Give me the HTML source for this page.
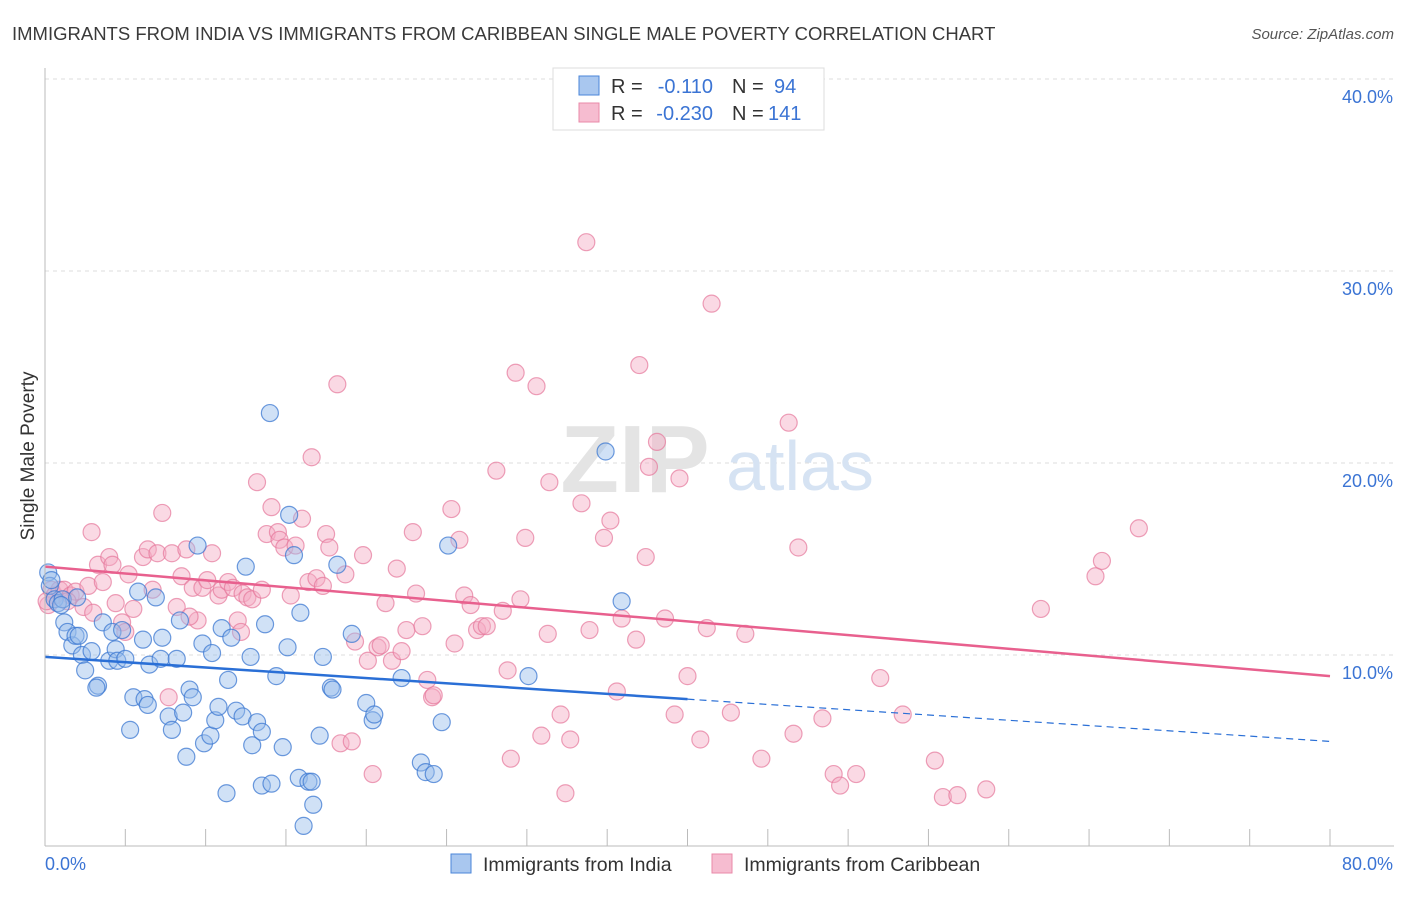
<!DOCTYPE html>
<html><head><meta charset="utf-8"><style>
body{margin:0;background:#fff;font-family:"Liberation Sans",sans-serif;}
svg text{font-family:"Liberation Sans",sans-serif;}
</style></head><body>
<svg width="1406" height="892" xmlns="http://www.w3.org/2000/svg">
<text x="12" y="40" font-size="18.5" fill="#3a3a3a">IMMIGRANTS FROM INDIA VS IMMIGRANTS FROM CARIBBEAN SINGLE MALE POVERTY CORRELATION CHART</text>
<text x="1394" y="39" font-size="15" fill="#555" font-style="italic" text-anchor="end">Source: ZipAtlas.com</text>
<g id="grid"></g>
<g>
<text x="635" y="492" font-size="96" font-family="Liberation Serif" fill="#e4e4e4" text-anchor="middle" font-weight="bold">ZIP</text>
<text x="800" y="490" font-size="70" fill="#d6e3f3" text-anchor="middle">atlas</text>
</g>
<g id="pts"></g>
<g id="lines"></g>
<g id="axes"></g>
<text transform="translate(34,456) rotate(-90)" font-size="19" fill="#333" text-anchor="middle">Single Male Poverty</text>
<g>
<rect x="553" y="68" width="271" height="62" fill="#fff" stroke="#ddd"/>
<rect x="579" y="76" width="20" height="19" fill="#a9c7ef" stroke="#4a86d8"/>
<rect x="579" y="103" width="20" height="19" fill="#f6bcd0" stroke="#e98aa8"/>
<text x="611" y="93" font-size="20" fill="#333">R =</text>
<text x="713" y="93" font-size="20" fill="#3b74d4" text-anchor="end">-0.110</text>
<text x="732" y="93" font-size="20" fill="#333">N =</text>
<text x="774" y="93" font-size="20" fill="#3b74d4">94</text>
<text x="611" y="120" font-size="20" fill="#333">R =</text>
<text x="713" y="120" font-size="20" fill="#3b74d4" text-anchor="end">-0.230</text>
<text x="732" y="120" font-size="20" fill="#333">N =</text>
<text x="768" y="120" font-size="20" fill="#3b74d4">141</text>
</g>
<g>
<rect x="451" y="854" width="20" height="19" fill="#a9c7ef" stroke="#4a86d8"/>
<text x="483" y="871" font-size="19.5" fill="#333">Immigrants from India</text>
<rect x="712" y="854" width="20" height="19" fill="#f6bcd0" stroke="#e98aa8"/>
<text x="744" y="871" font-size="19.5" fill="#333">Immigrants from Caribbean</text>
</g>
</svg>
<script>
const xTicks=[0,10,20,30,40,50,60,70,80];
const yTicks=[10,20,30,40];
const indiaX=[0.2,0.3,0.6,0.8,1.1,1.2,1.4,1.7,1.9,2.1,2.3,2.5,2.9,3.3,3.2,3.6,4.0,4.2,4.4,4.5,4.8,5.0,5.3,5.5,6.2,6.4,5.8,6.1,6.5,6.9,7.2,7.3,7.7,7.9,8.2,8.4,8.6,8.8,9.0,9.2,9.5,9.8,9.9,10.3,10.4,10.6,10.8,11.0,11.4,11.3,11.6,11.9,12.3,12.5,12.8,12.9,13.2,13.5,13.5,13.7,14.1,14.0,14.4,14.8,15.1,15.2,15.5,15.8,15.9,16.1,16.4,16.6,16.7,17.1,17.3,17.8,17.9,18.2,19.1,20.0,20.4,20.5,22.2,23.4,23.7,24.2,24.7,25.1,30.1,34.9,35.9,0.4,1.0,2.0];
const indiaY=[14.3,13.6,12.9,12.7,12.9,11.7,11.2,10.5,11.0,11.0,10.0,9.2,10.2,8.4,8.3,11.7,9.7,11.2,10.3,9.7,11.3,9.8,6.1,7.8,7.7,7.4,13.3,10.8,9.5,13.0,9.8,10.9,6.8,6.1,9.8,11.8,7.0,4.7,8.2,7.8,15.7,10.6,5.4,5.8,10.1,6.6,7.3,11.4,8.7,2.8,10.9,7.1,6.8,14.6,9.9,5.3,6.5,6.0,3.2,11.6,3.3,22.6,8.9,5.2,10.4,17.3,15.2,3.6,12.2,1.1,3.4,3.4,2.2,5.8,9.9,8.3,8.2,14.7,11.1,7.5,6.6,6.9,8.8,4.4,3.9,3.8,6.5,15.7,8.9,20.6,12.8,13.9,12.6,13.0];
const caribX=[0.2,0.4,0.6,0.9,1.2,1.6,1.9,2.4,2.7,2.9,3.3,3.6,4.0,4.2,4.4,4.8,5.0,5.5,6.1,6.4,6.7,7.0,7.3,7.7,7.9,8.2,8.5,8.8,9.2,9.5,9.8,10.1,10.4,10.8,11.0,11.4,11.7,12.0,12.3,12.6,12.9,13.2,13.5,13.8,14.1,14.5,14.6,14.9,15.3,15.6,16.0,16.4,16.6,16.9,17.3,17.5,17.7,18.2,18.4,18.7,19.1,19.3,19.8,20.1,20.4,20.7,20.9,21.2,21.6,21.9,22.2,22.5,22.9,23.1,23.5,23.8,24.1,24.2,25.3,25.5,25.8,26.1,26.5,26.9,27.2,27.5,28.1,28.5,28.8,29.0,29.3,29.6,29.9,30.6,30.9,31.3,31.4,32.1,32.4,32.7,33.4,33.7,33.9,34.8,35.2,35.6,35.9,36.8,37.0,37.4,37.6,38.1,38.6,39.2,39.5,40.0,40.8,41.2,41.5,42.7,43.6,44.6,46.3,46.6,46.9,48.4,49.1,49.5,50.5,52.0,53.4,55.4,55.9,56.8,58.6,62.0,65.4,65.8,68.1,0.1,1.4,3.0,5.2,9.0,12.2];
const caribY=[12.6,13.4,13.1,13.4,13.4,13.1,13.3,12.5,13.6,16.4,14.7,13.8,15.1,14.7,12.7,11.7,11.2,12.4,15.1,15.5,13.4,15.3,17.4,7.8,15.3,12.5,14.1,15.5,13.5,11.8,13.5,13.9,15.3,13.1,13.4,13.8,13.5,11.8,13.2,13.0,12.9,19.0,13.4,16.3,17.7,16.4,16.0,15.6,13.1,15.7,17.1,13.8,20.3,14.0,13.6,16.3,15.6,24.1,5.4,14.2,5.5,10.7,15.2,9.7,3.8,10.4,10.5,12.7,9.7,14.5,10.2,11.3,16.4,13.2,11.5,8.7,7.8,7.9,17.6,10.6,16.0,13.1,12.6,11.3,11.5,11.5,19.6,12.3,9.2,4.6,24.7,12.9,16.1,24.0,5.8,11.1,19.0,6.9,2.8,5.6,17.9,31.5,11.3,16.1,17.0,8.1,11.9,10.8,25.1,15.1,19.8,21.1,11.9,6.9,19.2,8.9,5.6,11.4,28.3,7.0,11.1,4.6,22.1,5.9,15.6,6.7,3.8,3.2,3.8,8.8,6.9,4.5,2.6,2.7,3.0,12.4,14.1,14.9,16.6,12.8,12.8,12.2,14.2,12.0,11.2];
const indiaTrend=[9.9,7.7,40,5.5];
const caribTrend=[14.6,8.9];
const NS='http://www.w3.org/2000/svg';
const X=v=>45+v*(1285/80), Y=v=>847-v*19.2;
function mk(t,a,p){const e=document.createElementNS(NS,t);for(const k in a)e.setAttribute(k,a[k]);p.appendChild(e);return e;}
const grid=document.getElementById('grid'),axes=document.getElementById('axes');
for(const t of yTicks){
 const l=mk('line',{x1:45,x2:1394,y1:Y(t),y2:Y(t),stroke:'#ddd','stroke-dasharray':'4,4'},grid);
 
 
 const tx=mk('text',{x:1393,y:Y(t)+24,'font-size':18,fill:'#3b74d4','text-anchor':'end'},axes);
 tx.textContent=t.toFixed(1)+'%';
 
 
}
const topLine=mk('line',{x1:45,x2:1394,y1:79,y2:79,stroke:'#ddd','stroke-dasharray':'4,4'},grid);


mk('line',{x1:45,x2:45,y1:68,y2:846,stroke:'#bbb'},axes);
mk('line',{x1:45,x2:1394,y1:846,y2:846,stroke:'#bbb'},axes);
for(const t of xTicks){mk('line',{x1:X(t),x2:X(t),y1:829,y2:846,stroke:'#bbb'},axes);}
for(let i=5;i<80;i+=10){mk('line',{x1:X(i),x2:X(i),y1:829,y2:846,stroke:'#bbb'},axes);}
const xl=mk('text',{x:45,y:870,'font-size':18,fill:'#3b74d4'},axes);xl.textContent='0.0%';


const xr=mk('text',{x:1393,y:870,'font-size':18,fill:'#3b74d4','text-anchor':'end'},axes);xr.textContent='80.0%';


const pts=document.getElementById('pts');
caribX.forEach((x,i)=>{const c=mk('circle',{cx:X(x),cy:Y(caribY[i]),r:8.5,fill:'rgba(244,170,195,0.45)',stroke:'rgba(230,120,155,0.7)','stroke-width':1.2},pts);
 
 });
indiaX.forEach((x,i)=>{const c=mk('circle',{cx:X(x),cy:Y(indiaY[i]),r:8.5,fill:'rgba(150,188,236,0.45)',stroke:'rgba(60,120,210,0.75)','stroke-width':1.2},pts);
 
 });
const ln=document.getElementById('lines');
const a=mk('line',{x1:X(0),y1:Y(indiaTrend[0]),x2:X(indiaTrend[2]),y2:Y(indiaTrend[1]),stroke:'#2a6fd6','stroke-width':2.5},ln);


const b=mk('line',{x1:X(indiaTrend[2]),y1:Y(indiaTrend[1]),x2:X(80),y2:Y(indiaTrend[3]),stroke:'#2a6fd6','stroke-width':1.2,'stroke-dasharray':'7,5'},ln);


const c=mk('line',{x1:X(0),y1:Y(caribTrend[0]),x2:X(80),y2:Y(caribTrend[1]),stroke:'#e8608e','stroke-width':2.5},ln);


</script>
</body></html>
